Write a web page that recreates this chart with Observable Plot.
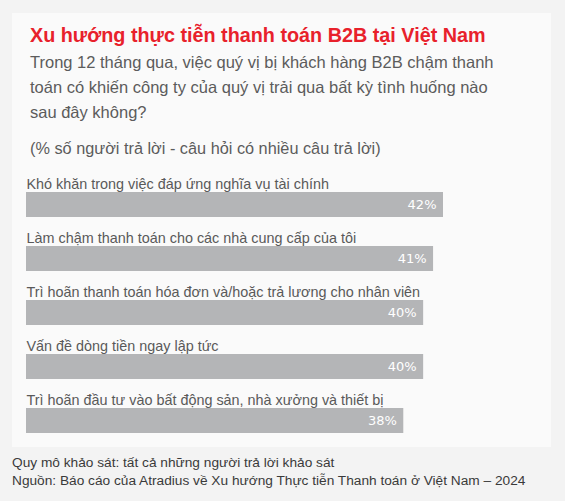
<!DOCTYPE html>
<html>
<head>
<meta charset="utf-8">
<script src="https://cdn.jsdelivr.net/npm/d3@7"></script>
<script src="https://cdn.jsdelivr.net/npm/@observablehq/plot@0.6"></script>
<style>
  html, body { margin: 0; padding: 0; }
  body { width: 565px; height: 501px; background: #f3f3f3; position: relative; overflow: hidden;
         font-family: "Liberation Sans", Arial, sans-serif; }
  #panel { position: absolute; left: 12px; top: 13px; width: 539px; height: 434px; background: #fafafa; }
  .abs { position: absolute; white-space: nowrap; }
  #title { left: 30px; top: 24px; font-size: 19.8px; font-weight: bold; color: #e8212b; line-height: 22px; }
  #subtitle { left: 30px; top: 50px; font-size: 16.5px; color: #5c5c5c; line-height: 25px; }
  #note { left: 30px; top: 136px; font-size: 16.3px; color: #5c5c5c; line-height: 25px; }
  #chart { left: 12px; top: 168px; }
  #footer { left: 12px; top: 454px; font-size: 13.7px; color: #3a3a3a; line-height: 18px; }
</style>
</head>
<body>
<div id="panel"></div>
<div id="title" class="abs">Xu hướng thực tiễn thanh toán B2B tại Việt Nam</div>
<div id="subtitle" class="abs">Trong 12 tháng qua, việc quý vị bị khách hàng B2B chậm thanh<br>toán có khiến công ty của quý vị trải qua bất kỳ tình huống nào<br>sau đây không?</div>
<div id="note" class="abs">(% số người trả lời - câu hỏi có nhiều câu trả lời)</div>
<div id="chart" class="abs"></div>
<div id="footer" class="abs">Quy mô khảo sát: tất cả những người trả lời khảo sát<br>Nguồn: Báo cáo của Atradius về Xu hướng Thực tiễn Thanh toán ở Việt Nam – 2024</div>
<script>
const categories = [
  "Khó khăn trong việc đáp ứng nghĩa vụ tài chính",
  "Làm chậm thanh toán cho các nhà cung cấp của tôi",
  "Trì hoãn thanh toán hóa đơn và/hoặc trả lương cho nhân viên",
  "Vấn đề dòng tiền ngay lập tức",
  "Trì hoãn đầu tư vào bất động sản, nhà xưởng và thiết bị"
];
const values = [42, 41, 40, 40, 38];

const data = categories.map((c, i) => ({category: c, value: values[i]}));

const chart = Plot.plot({
  width: 539,
  height: 270,
  marginTop: 0,
  marginBottom: 0,
  marginLeft: 14,
  marginRight: 108,
  style: {background: "transparent", overflow: "visible"},
  x: {domain: [0, 42], axis: null},
  y: {domain: categories, padding: 0, axis: null},
  marks: [
    Plot.barX(data, {x: "value", y: "category", fill: "#b4b5b7", insetTop: 24, insetBottom: 5}),
    Plot.text(data, {x: 0, y: "category", text: "category", textAnchor: "start", lineAnchor: "bottom",
      dy: -7, fill: "#595959", fontSize: 14.4, fontFamily: "Liberation Sans, Arial, sans-serif"}),
    Plot.text(data, {x: "value", y: "category", text: d => d.value + "%", textAnchor: "end",
      lineAnchor: "middle", dy: 9.5, dx: -7, fill: "white", fontSize: 13, fontFamily: "DejaVu Sans, sans-serif"})
  ]
});
document.getElementById("chart").appendChild(chart);
</script>
</body>
</html>
